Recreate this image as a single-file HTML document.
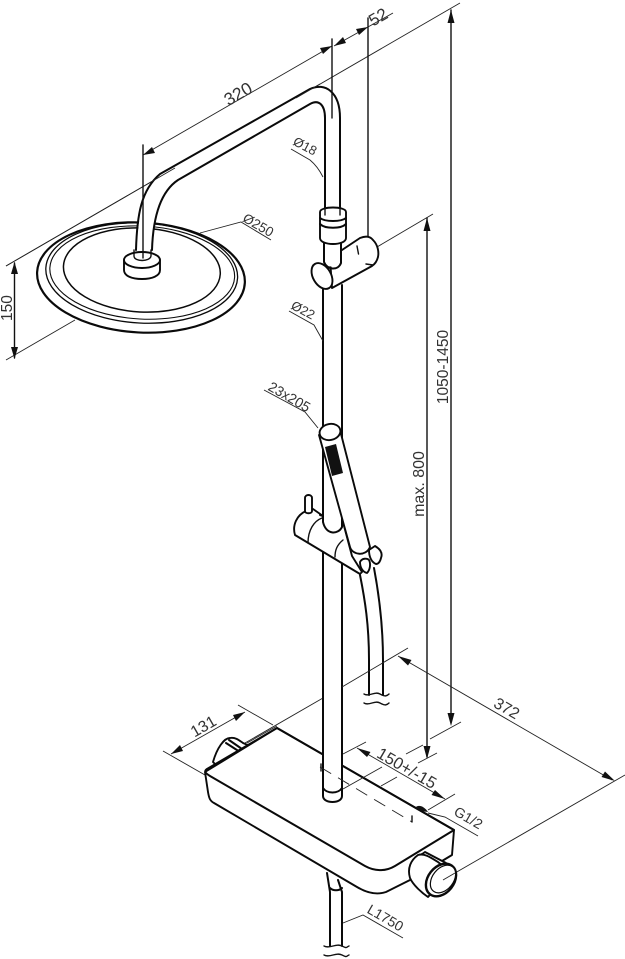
<!DOCTYPE html>
<html><head><meta charset="utf-8"><style>
html,body{margin:0;padding:0;background:#fff}
svg{display:block}
text{font-family:"Liberation Sans",sans-serif;fill:#333;stroke:none}
.t{fill:none;stroke:#222;stroke-width:.9}
.m{fill:none;stroke:#111;stroke-width:1.4;stroke-linecap:round;stroke-linejoin:round}
.k{fill:none;stroke:#0a0a0a;stroke-width:2;stroke-linecap:round;stroke-linejoin:round}
.w{fill:#fff;stroke:#0a0a0a;stroke-width:1.9;stroke-linecap:round;stroke-linejoin:round}
.a{fill:#111;stroke:none}
</style></head><body>
<svg width="625" height="959" viewBox="0 0 625 959" xmlns="http://www.w3.org/2000/svg">
<!-- long dim lines -->
<path class="t" d="M6 266L460 3M6 360L75 320M143 155L332 46M334 46L393 13M377 247L433 214"/>
<path class="m" d="M368 18V240M451 10V722M427 218V757M14.500 263V358"/>
<path class="a" d="M143 155L155 153L152 147ZM332 46L320 48L323 54ZM334 46L346 43L343 37ZM368 27L356 29L359 35Z"/>
<path class="a" d="M451 10L454.500 23H447.500ZM427 218L430.500 231H423.500ZM451 726L447.500 713H454.500ZM427 759L423.500 746H430.500ZM14.500 262L18 274H11ZM14.500 359L11 347H18Z"/>
<!-- head -->
<g transform="rotate(3 141 277)">
<ellipse cx="141" cy="277.500" rx="104" ry="55" fill="#fff" stroke="#0a0a0a" stroke-width="2.200"/>
<ellipse cx="141.500" cy="273" rx="96" ry="50" fill="none" stroke="#0a0a0a" stroke-width="1.300"/>
<ellipse cx="142" cy="272.500" rx="92.500" ry="46.500" fill="none" stroke="#0a0a0a" stroke-width="1.100"/>
<ellipse cx="141.500" cy="270" rx="78.500" ry="42" fill="none" stroke="#0a0a0a" stroke-width="1.500"/>
</g>
<path class="t" d="M200 233L241 222L271 240"/>
<!-- arm -->
<path d="M137 250C138 215 143 190 160 174L310 90C325 83 340 92 340 118V208H325V118C325 105 318 100 310 104L178 180C160 192 153 215 152 250Z" fill="#fff"/>
<path class="k" d="M136 250C137 215 141 190 160 174L310 89C325 82 340 92 340 118V208"/>
<path class="k" d="M152 250C153 218 160 192 178 180L310 104C319 99 325 105 325 118V208"/>
<path class="t" d="M6 266L175 168M296 98L320 84"/>
<path class="m" d="M332 39V118"/>
<!-- nut -->
<path class="w" d="M124 260V270C124 276 132 279 142 279C152 279 160 276 160 270V260Z"/>
<ellipse cx="142" cy="260" rx="18" ry="8" class="w"/>
<path class="m" d="M134 250V256C134 262 150 262 151 256V250"/>
<path class="m" d="M143 145V258"/>
<!-- rod -->
<rect x="323" y="240" width="19" height="555" fill="#fff"/>
<path class="k" d="M323 285V795M342 285V795"/>
<!-- slider -->
<path class="w" d="M330 258L360 238C365 236 370 236 373 240C378 245 379 252 378 257C377 261 375 264 372 266L332 288Z"/>
<path class="m" d="M357 246L358.500 254M366 264L373 265"/>
<ellipse cx="322" cy="276" rx="9" ry="14" transform="rotate(-30 322 276)" class="w"/>
<path d="M325 240H341V262C338 269 328 268 325 262Z" fill="#fff"/>
<path class="k" d="M324 241V262C327 270 338 271 341 263V241"/>
<!-- collar -->
<path class="w" d="M320 212C320 206 346 206 346 212V238C346 246 320 246 320 238Z"/>
<path class="k" d="M320 224C325 229 341 229 346 224M320 218C325 222 341 222 346 218"/>
<path class="m" d="M325 208V215M340 208V215"/>
<!-- labels leaders -->
<path class="t" d="M291 149L310 160C316 165 320 171 323 177M289 311L314 325L323 341M264 390L305 412L318 428"/>
<!-- holder -->
<path class="w" d="M295 535C292 525 297 515 306 511L313 509L323 516L343 522L352 556L362 572L360 574Z"/>
<path class="m" d="M322 518C314 521 308 530 308 543M343 540C337 545 335 550 335 557"/>
<rect x="324" y="490" width="17" height="36" fill="#fff"/>
<path class="k" d="M323 490V522C326 535 338 535 342 527V490"/>
<path class="k" d="M323 516L320 515"/>
<path class="w" d="M305 511V498C305 494 312 494 312 498V511C312 514 305 514 305 511Z"/>
<!-- hose -->
<path class="k" d="M360 575C365 600 369 625 369 660V695M374 568C380 600 383 630 383 660V695"/>
<!-- handset -->
<path class="w" d="M319 435L350 547C352 555 366 557 370 547L340 430Z"/>
<ellipse cx="330" cy="432" rx="10.500" ry="8" transform="rotate(-12 330 432)" class="w"/>
<path fill="#111" d="M325 447L336 444L343 473L332 476Z"/>
<path class="w" d="M369 550L375 546C380 549 383 553 381 558C380 562 378 564 376 564C371 562 369 556 369 550Z"/>
<path class="w" d="M360 562C362 558 367 558 369 560C371 564 370 570 367 573C363 572 360 568 360 562Z"/>
<!-- hose breaks -->
<path class="m" d="M364 694C369 697 375 691 380 694S387 696 389 694M364 703C369 706 375 700 380 703S387 705 389 703"/>
<!-- dims back -->
<path class="t" d="M245 743L323 698M342 687L408 648M238 705L273 725M163 751L205 775M171 754L245 712"/>
<path class="a" d="M171 754L183 751L180 745ZM245 712L233 715L236 721Z"/>
<!-- rear knob -->
<path class="w" d="M213 762C217 748 224 738 230 738C236 737 240 741 243 743L250 746L216 765Z"/>
<path class="k" d="M226 743L240 752M229 740L242 749"/>
<!-- body -->
<path class="w" d="M205 772L208 792C209 798 210 801 214 803L357 887C367 893 377 895 386 892L412 879L452 855L454 830L277 728Z"/>
<path class="k" d="M454 830L395 866C385 872 374 871 365 866L210 776C205 773 204 771 207 769L277 728L454 830" stroke-width="2.200"/>
<path class="t" d="M247 743L277 726"/>
<!-- rod front -->
<rect x="323.500" y="740" width="18" height="57" fill="#fff"/>
<path class="w" style="stroke:none" d="M323 790H342V796C342 804 323 804 323 796Z"/>
<path class="k" d="M323 690V796C323 804 342 804 342 796V690"/>
<path class="k" d="M323 788C327 794 338 794 342 788"/>
<!-- other dim -->
<path class="t" d="M398 656L612 780M455 873L625 775M343 754L366 742M428 810L455 794M357 748L445 799M343 789L382 767M381 786L397 777M406 754L423 745M418 763L437 753M430 739L461 722"/>
<path class="t" d="M320 767L412 822" stroke-dasharray="13 8"/>
<path class="m" d="M412 816V822M321 764V771"/>
<path class="a" d="M398 656L408 665.500L411.500 660ZM615 781L605 771.500L601.500 777ZM357 748L367 757L370.500 752ZM445 799L435 790L431.500 795Z"/>
<path fill="#111" d="M415 808C418 804 424 806 428 812L421 811Z"/>
<path class="t" d="M428 813L445 817L478 836M343 923L363 915L403 938"/>
<!-- knob -->
<path class="w" d="M418 857L425 852L446 863L438 868Z"/>
<path class="k" d="M422 854L442 865"/>
<path class="w" d="M418 855C411 860 407 868 410 878C413 885 422 893 428 897L450 872L438 862C430 857 424 853 418 855Z"/>
<ellipse cx="441" cy="880" rx="13" ry="18" transform="rotate(38 441 880)" fill="#fff" stroke="#0a0a0a" stroke-width="2.400"/>
<ellipse cx="443" cy="879" rx="10.500" ry="15.500" transform="rotate(38 443 879)" fill="#fff" stroke="#0a0a0a" stroke-width="1.200"/>
<path class="t" d="M443 880L455 873"/>
<!-- lower hose -->
<path class="k" d="M327 873L330 892V946M338 880L342 892V946"/>
<path class="k" d="M330 888C333 891 339 891 342 888"/>
<path class="m" d="M324 946C330 949 336 943 342 946S346 947 349 946M324 955C330 958 336 952 342 955S346 956 349 955"/>
<!-- text -->
<text transform="translate(241 99) rotate(-30)" font-size="17.500" text-anchor="middle">320</text>
<text transform="translate(381 22) rotate(-30)" font-size="17" text-anchor="middle">52</text>
<text transform="translate(256 229) rotate(30)" font-size="13.500" text-anchor="middle">Ø250</text>
<text transform="translate(303 150) rotate(28)" font-size="13" text-anchor="middle">Ø18</text>
<text transform="translate(301 314) rotate(28)" font-size="13" text-anchor="middle">Ø22</text>
<text transform="translate(287 401) rotate(30)" font-size="14" text-anchor="middle">23x205</text>
<text transform="translate(12 308) rotate(-90)" font-size="15.500" text-anchor="middle">150</text>
<text transform="translate(448 367) rotate(-90)" font-size="15.500" text-anchor="middle">1050-1450</text>
<text transform="translate(424 484) rotate(-90)" font-size="16" text-anchor="middle">max. 800</text>
<text transform="translate(504 713) rotate(30)" font-size="16" text-anchor="middle">372</text>
<text transform="translate(206 731) rotate(-30)" font-size="16" text-anchor="middle">131</text>
<text transform="translate(404 773) rotate(30)" font-size="16.500" text-anchor="middle">150+/-15</text>
<text transform="translate(466 822) rotate(30)" font-size="14" text-anchor="middle">G1/2</text>
<text transform="translate(383 922) rotate(30)" font-size="14" text-anchor="middle">L1750</text>
</svg>
</body></html>
